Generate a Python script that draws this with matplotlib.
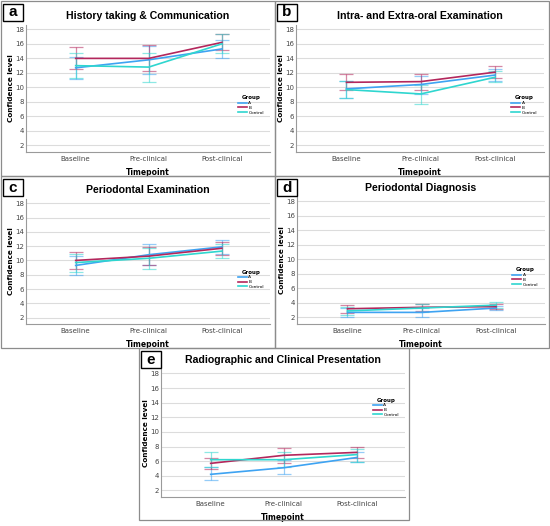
import matplotlib.pyplot as plt
from matplotlib.patches import Rectangle

timepoints = ["Baseline", "Pre-clinical", "Post-clinical"]
groups = ["A", "B", "Control"]
colors = ["#3ea3f2", "#b3275c", "#2fd6cf"]

titles = ["History taking & Communication", "Intra- and Extra-oral Examination",
          "Periodontal Examination", "Periodontal Diagnosis",
          "Radiographic and Clinical Presentation"]
letters = ["a", "b", "c", "d", "e"]

# rows: A, B, Control ; columns: timepoints
mean_a = [[12.7, 13.8, 15.3], [14.0, 14.0, 16.2], [13.0, 12.8, 16.0]]
low_a = [[11.1, 11.9, 14.1], [12.5, 12.2, 15.1], [11.3, 10.8, 14.7]]
high_a = [[14.2, 15.7, 16.5], [15.5, 15.8, 17.4], [14.7, 14.8, 17.3]]

mean_b = [[9.8, 10.4, 11.7], [10.7, 10.8, 12.1], [9.7, 9.1, 11.4]]
low_b = [[8.6, 9.1, 10.9], [9.6, 9.6, 11.3], [8.6, 7.7, 10.7]]
high_b = [[10.9, 11.6, 12.5], [11.8, 11.9, 12.9], [10.9, 10.4, 12.2]]

mean_c = [[9.3, 10.8, 11.9], [10.0, 10.6, 11.7], [9.7, 10.3, 11.3]]
low_c = [[8.0, 9.3, 10.9], [8.8, 9.4, 10.8], [8.4, 8.8, 10.4]]
high_c = [[10.6, 12.3, 12.9], [11.2, 11.9, 12.6], [10.9, 11.8, 12.3]]

mean_d = [[2.7, 2.7, 3.3], [3.2, 3.4, 3.5], [2.9, 3.3, 3.7]]
low_d = [[2.1, 2.1, 3.0], [2.6, 2.9, 3.1], [2.3, 2.8, 3.3]]
high_d = [[3.3, 3.3, 3.6], [3.7, 3.9, 3.9], [3.5, 3.9, 4.1]]

mean_e = [[4.2, 5.1, 6.5], [5.7, 6.8, 7.2], [6.2, 6.2, 6.9]]
low_e = [[3.4, 4.2, 5.9], [4.9, 5.8, 6.4], [5.2, 5.2, 5.9]]
high_e = [[5.2, 6.1, 7.3], [6.5, 7.8, 8.0], [7.2, 7.2, 7.7]]

W, H = 550, 526
fig = plt.figure(figsize=(W / 100, H / 100), dpi=100)


def px_rect(l, t, r, b):
    return [l / W, 1 - b / H, (r - l) / W, (b - t) / H]


# panel boxes (left, top, right, bottom) in pixels
boxes = [(1, 1, 275, 176), (275, 1, 549, 176), (1, 176, 275, 348),
         (275, 176, 549, 348), (139, 348, 409, 520)]
# plot areas
areas = [(26, 25, 270, 152), (296, 25, 544, 152), (26, 199, 270, 324),
         (297, 197, 545, 324), (161, 369, 405, 497)]
legend_pos = [(0.86, 0.46), (0.86, 0.46), (0.86, 0.45), (0.86, 0.46), (0.86, 0.79)]

panels = [(mean_a, low_a, high_a), (mean_b, low_b, high_b), (mean_c, low_c, high_c),
          (mean_d, low_d, high_d), (mean_e, low_e, high_e)]

for i, (means, lows, highs) in enumerate(panels):
    l, t, r, b = boxes[i]
    fig.patches.append(Rectangle((l / W, 1 - b / H), (r - l) / W, (b - t) / H,
                                 transform=fig.transFigure, fill=False,
                                 edgecolor="#8c8c8c", lw=0.9))
    # letter box
    fig.patches.append(Rectangle(((l + 2) / W, 1 - (t + 20) / H), 20 / W, 17 / H,
                                 transform=fig.transFigure, fill=False,
                                 edgecolor="black", lw=1.0))
    fig.text((l + 12) / W, 1 - (t + 11.5) / H, letters[i], fontsize=11,
             fontweight="bold", ha="center", va="center", family="Liberation Sans")

    ax = fig.add_axes(px_rect(*areas[i]))
    x = range(len(timepoints))
    for g in range(3):
        yerr = [[means[g][k] - lows[g][k] for k in x], [highs[g][k] - means[g][k] for k in x]]
        ax.errorbar(x, means[g], yerr=yerr, fmt="none", ecolor=colors[g], alpha=0.55,
                    elinewidth=0.9, capsize=4.8, capthick=0.9, zorder=2)
        ax.plot(x, means[g], color=colors[g], lw=1.2, label=groups[g], zorder=3)

    ax.set_xlim(-0.68, 2.66)
    ax.set_ylim(1.1, 18.6)
    ax.set_yticks(range(2, 19, 2))
    ax.set_xticks(list(x))
    ax.set_xticklabels(timepoints)
    ax.grid(axis="y", color="#dcdcdc", lw=0.8)
    ax.set_axisbelow(True)
    for s in ["top", "right"]:
        ax.spines[s].set_visible(False)
    for s in ["left", "bottom"]:
        ax.spines[s].set_color("#9a9a9a")
        ax.spines[s].set_linewidth(0.8)
    ax.tick_params(axis="x", length=0, labelsize=5, colors="#444444", pad=3)
    ax.tick_params(axis="y", length=0, labelsize=5, colors="#444444", pad=1.5)
    ax.set_title(titles[i], fontsize=7.6, fontweight="bold", family="Liberation Sans", pad=4)
    ax.set_xlabel("Timepoint", fontsize=5.5, fontweight="bold", labelpad=4)
    ax.set_ylabel("Confidence level", fontsize=5.2, fontweight="bold", labelpad=1)
    leg = ax.legend(title="Group", loc="upper left", bbox_to_anchor=legend_pos[i],
                    frameon=False, fontsize=3.2, title_fontsize=4, handlelength=2,
                    handletextpad=0.4, labelspacing=0.15, borderaxespad=0)
    leg.get_title().set_fontweight("bold")

fig.savefig("out.png", dpi=100)
